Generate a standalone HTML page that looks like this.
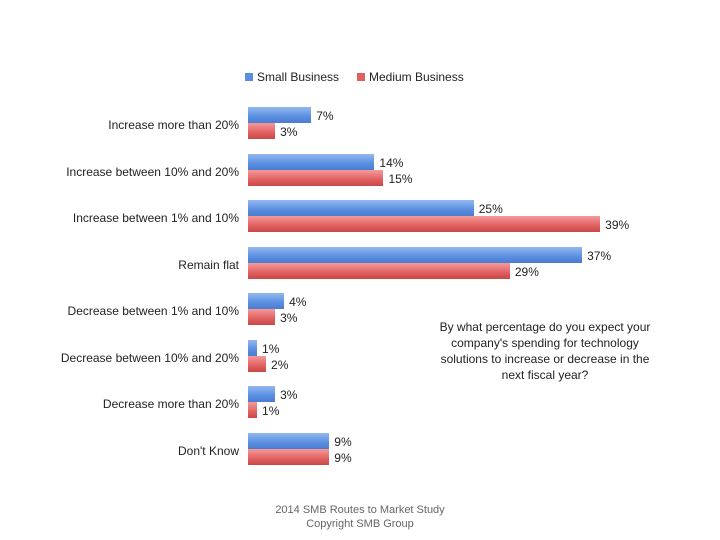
<!DOCTYPE html>
<html><head><style>
body{margin:0;width:720px;height:540px;background:#fff;font-family:"Liberation Sans",sans-serif;font-size:12px;color:#222;position:relative;overflow:hidden}
.a{position:absolute;white-space:nowrap}
.lab{position:absolute;right:481px;text-align:right;white-space:nowrap}
.b{position:absolute;left:248px;height:16px;background:linear-gradient(#93b8f0,#5a8ee0 60%,#4a7cd0)}
.r{position:absolute;left:248px;height:16px;background:linear-gradient(#f59a9a,#e06060 60%,#c84848)}
.v{position:absolute;white-space:nowrap}
</style></head><body>
<div class="a" style="left:245px;top:73px;width:8px;height:8px;background:#5a8ee0"></div>
<div class="a" style="left:257px;top:70px">Small Business</div>
<div class="a" style="left:357px;top:73px;width:8px;height:8px;background:#e06060"></div>
<div class="a" style="left:369px;top:70px">Medium Business</div>
<div id="c"></div>
<div class="a" style="left:430px;top:319px;width:230px;text-align:center;line-height:16px;white-space:normal">By what percentage do you expect your company's spending for technology solutions to increase or decrease in the next fiscal year?</div>
<div class="a" style="left:0;width:720px;text-align:center;top:503px;font-size:11px;color:#666;line-height:14px">2014 SMB Routes to Market Study<br>Copyright SMB Group</div>
<script>
var d=[["Increase more than 20%",7,3],["Increase between 10% and 20%",14,15],["Increase between 1% and 10%",25,39],["Remain flat",37,29],["Decrease between 1% and 10%",4,3],["Decrease between 10% and 20%",1,2],["Decrease more than 20%",3,1],["Don't Know",9,9]];
var h="";
d.forEach(function(e,i){var y=107+i*46.5;var k=9.03;
h+='<div class="lab" style="top:'+(y+11)+'px">'+e[0]+'</div>';
h+='<div class="b" style="top:'+y+'px;width:'+(e[1]*k)+'px"></div>';
h+='<div class="r" style="top:'+(y+16)+'px;width:'+(e[2]*k)+'px"></div>';
h+='<div class="v" style="top:'+(y+2)+'px;left:'+(248+e[1]*k+5)+'px">'+e[1]+'%</div>';
h+='<div class="v" style="top:'+(y+18)+'px;left:'+(248+e[2]*k+5)+'px">'+e[2]+'%</div>';});
document.getElementById("c").innerHTML=h;
</script>
</body></html>
